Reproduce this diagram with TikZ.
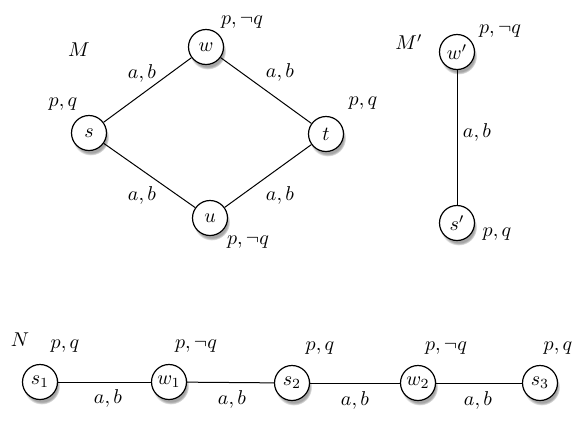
\documentclass[tikz,border=0pt]{standalone}
\usetikzlibrary{shadows}
\begin{document}
\begin{tikzpicture}[x=0.5pt,y=-0.5pt,
  st/.style={circle,draw,line width=0.6pt,fill=white,minimum size=17.5pt,inner sep=0pt,
    circular drop shadow={shadow xshift=0.8pt,shadow yshift=-2pt,opacity=0.7,shadow scale=1.05}},
  lab/.style={inner sep=0pt},
  ed/.style={line width=0.5pt}]
\useasboundingbox (0,0) rectangle (581,429);
% M
\node[lab] (lM) at (79,50) {$M$};
\node[st] (w) at (206,47) {$w$};
\node[st] (s) at (89,133) {$s$};
\node[st] (t) at (326,134) {$t$};
\node[st] (u) at (210,218) {$u$};
\draw[ed] (s) -- (w);
\draw[ed] (w) -- (t);
\draw[ed] (s) -- (u);
\draw[ed] (u) -- (t);
\node[lab] (pw) at (242,22) {$p,\neg q$};
\node[lab] (ps) at (63,104) {$p,q$};
\node[lab] (pt) at (363,103) {$p,q$};
\node[lab] (pu) at (248,242) {$p,\neg q$};
\node[lab] (e1) at (142,73) {$a,b$};
\node[lab] (e2) at (280,72) {$a,b$};
\node[lab] (e3) at (142,195) {$a,b$};
\node[lab] (e4) at (280,195) {$a,b$};
% M'
\node[lab] (lM2) at (409,42) {$M'$};
\node[st] (w') at (457,52) {$w'$};
\node[st] (s') at (457,223) {$s'$};
\draw[ed] (w') -- (s');
\node[lab] (pw2) at (500,31) {$p,\neg q$};
\node[lab] (e5) at (477,132) {$a,b$};
\node[lab] (ps2) at (497,234) {$p,q$};
% N
\node[lab] (lN) at (20,340) {$N$};
\node[st] (s1) at (40,382) {$s_1$};
\node[st] (w1) at (169,382) {$w_1$};
\node[st] (s2) at (292,383) {$s_2$};
\node[st] (w2) at (418,383) {$w_2$};
\node[st] (s3) at (540,383) {$s_3$};
\draw[ed] (s1) -- (w1);
\draw[ed] (w1) -- (s2);
\draw[ed] (s2) -- (w2);
\draw[ed] (w2) -- (s3);
\node[lab] (q1) at (65,346) {$p,q$};
\node[lab] (q2) at (196,346) {$p,\neg q$};
\node[lab] (q3) at (320,348) {$p,q$};
\node[lab] (q4) at (446,348) {$p,\neg q$};
\node[lab] (q5) at (558,348) {$p,q$};
\node[lab] (f1) at (108,398) {$a,b$};
\node[lab] (f2) at (232,399) {$a,b$};
\node[lab] (f3) at (355,400) {$a,b$};
\node[lab] (f4) at (478,400) {$a,b$};
\end{tikzpicture}
\end{document}
